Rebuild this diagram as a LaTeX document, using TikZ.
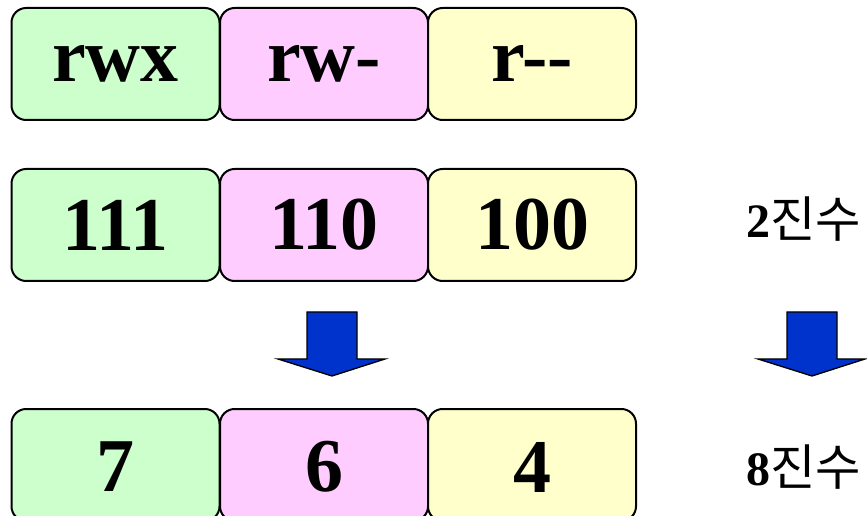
\documentclass[tikz,border=0pt]{standalone}
\usepackage{fontspec}
\setmainfont{Liberation Serif}
\newfontfamily\krfont{Noto Sans CJK KR}
\begin{document}
\begin{tikzpicture}[x=0.75pt,y=-0.75pt,
  cell/.style={draw=black,line width=1.5pt,rounded corners=11pt,minimum width=156pt,minimum height=84pt,inner sep=0pt,font=\fontsize{57}{60}\selectfont\bfseries},
  gcell/.style={cell,fill={rgb,255:red,204;green,255;blue,204}},
  pcell/.style={cell,fill={rgb,255:red,255;green,204;blue,255}},
  ycell/.style={cell,fill={rgb,255:red,255;green,255;blue,204}},
  big/.style={inner sep=0pt,font=\fontsize{57}{60}\selectfont\bfseries},
  lbl/.style={inner sep=0pt,font=\fontsize{36}{38}\selectfont\bfseries},
  bluearrow/.style={fill=arrowblue,draw=black,line width=1pt,line join=miter}]
\definecolor{arrowblue}{HTML}{0033CC}
\useasboundingbox (0,0) rectangle (867,516);
\begin{scope}
\clip (0,0) rectangle (867,516);
% row 1
\node[gcell] (r1a) at (115.5,64) {rwx};
\node[pcell] (r1b) at (324,64) {rw-};
\node[ycell] (r1c) at (532,64) {r-{}-};
% row 2
\node[gcell] (r2a) at (115.5,225) {111};
\node[pcell] (r2b) at (324,225) {110};
\node[ycell] (r2c) at (532,225) {100};
% row 3
\node[gcell,anchor=north] (r3a) at (115.5,408) {};
\node[pcell,anchor=north] (r3b) at (324,408) {};
\node[ycell,anchor=north] (r3c) at (532,408) {};
\node[big] (t3a) at (115.5,467) {7};
\node[big] (t3b) at (324,467) {6};
\node[big] (t3c) at (532,467) {4};
\end{scope}
% labels
\node[lbl,anchor=west] (l2) at (746,219) {2{\krfont\fontsize{37}{40}\selectfont\mdseries 진수}};
\node[lbl,anchor=west] (l8) at (746,467) {8{\krfont\fontsize{37}{40}\selectfont\mdseries 진수}};
% arrows
\draw[bluearrow] (307,312) -- (357,312) -- (357,359) -- (385,359) -- (332,376) -- (278,359) -- (307,359) -- cycle;
\draw[bluearrow] (787,312) -- (837,312) -- (837,359) -- (865,359) -- (812,376) -- (758,359) -- (787,359) -- cycle;
\end{tikzpicture}
\end{document}
